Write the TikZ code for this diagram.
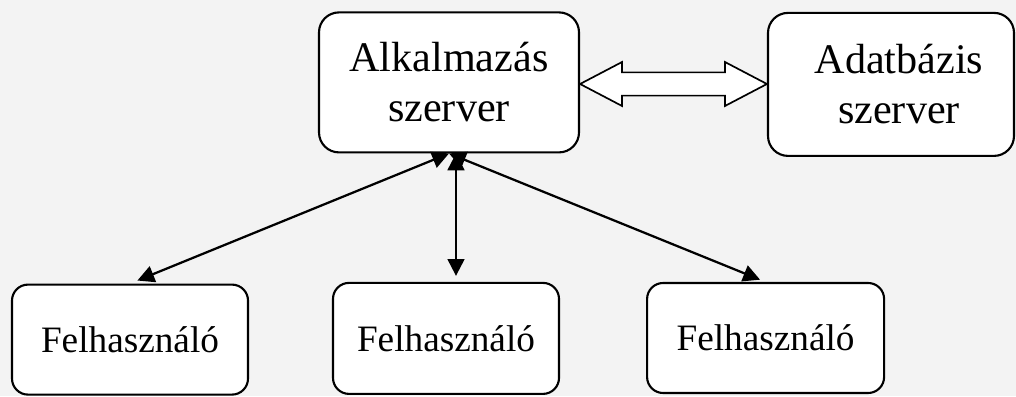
\documentclass[tikz,border=0pt]{standalone}
\usepackage{fontspec}
\setmainfont{Liberation Serif}
\usetikzlibrary{arrows.meta}
\usetikzlibrary{positioning}
\usetikzlibrary{calc}
\definecolor{bggray}{RGB}{243,243,243}
\begin{document}
\begin{tikzpicture}[server/.style={draw,line width=1.5pt,fill=white,rounded corners=0.5cm,minimum width=6.5cm,minimum height=3.5cm,align=center,font=\fontsize{30}{35.6}\selectfont},
user/.style={draw,line width=1.5pt,fill=white,rounded corners=0.4cm,minimum width=5.85cm,minimum height=2.75cm,font=\fontsize{26.5}{30}\selectfont},
link/.style={line width=1.6pt,{Triangle[length=0.42cm,width=0.42cm]}-{Triangle[length=0.42cm,width=0.42cm]}}]
\fill[bggray] (0,0) rectangle (25.4,9.9);
\useasboundingbox (0,0) rectangle (25.4,9.9);
  \node[server] (app) at (11.225,7.84){Alkalmazás\\szerver};
  \node[server,minimum width=6.15cm,minimum height=3.575cm] (db) at (22.275,7.79){\hspace*{0.4cm}Adatbázis\\\hspace*{0.4cm}szerver};
  \node[user,minimum width=5.9cm] (u1) at (3.25,1.41){Felhasználó};
  \node[user,minimum width=5.65cm,minimum height=2.775cm] (u2) at (11.15,1.44){Felhasználó};
  \node[user,minimum width=5.925cm] (u3) at (19.14,1.45){Felhasználó};
\coordinate (dbin) at ([yshift=-0.04cm]db.west|-app.east);
\coordinate (appout) at ([yshift=-0.04cm]app.east);
\draw[link,shorten >=0.2cm](app.south)--(u1.north);
\draw[link,shorten >=0.15cm]([xshift=0.175cm]app.south)--([xshift=0.175cm]app.south|-u2.north);
\draw[link,shorten >=0.15cm](app.south)--(u3.north);
\draw[line width=1.2pt,fill=white,line join=miter](appout)--($(appout)+(1.05,0.55)$)--($(appout)+(1.05,0.29)$)
  --($(dbin)+(-1.05,0.29)$)--($(dbin)+(-1.05,0.55)$)--(dbin)--($(dbin)+(-1.05,-0.55)$)
  --($(dbin)+(-1.05,-0.29)$)--($(appout)+(1.05,-0.29)$)--($(appout)+(1.05,-0.55)$)--cycle;
  \end{tikzpicture}
\end{document}
